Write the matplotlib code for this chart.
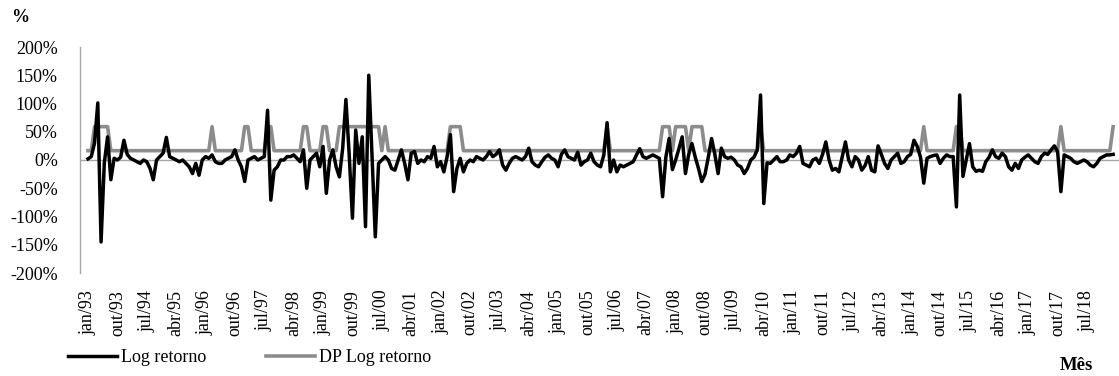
import numpy as np
import matplotlib
matplotlib.use('Agg')
import matplotlib.pyplot as plt

plt.rcParams['font.family'] = ['Liberation Serif', 'DejaVu Serif']

# rótulos do eixo x (um a cada 9 meses, jan/93 ... jul/18)
rotulos_x = ['jan/93', 'out/93', 'jul/94', 'abr/95', 'jan/96', 'out/96', 'jul/97',
             'abr/98', 'jan/99', 'out/99', 'jul/00', 'abr/01', 'jan/02', 'out/02',
             'jul/03', 'abr/04', 'jan/05', 'out/05', 'jul/06', 'abr/07', 'jan/08',
             'out/08', 'jul/09', 'abr/10', 'jan/11', 'out/11', 'jul/12', 'abr/13',
             'jan/14', 'out/14', 'jul/15', 'abr/16', 'jan/17', 'out/17', 'jul/18']

# log retorno mensal (%), jan/93 a mar/19, uma linha por ano
log_retorno = [
    2, 6, 30, 101, -145, -5, 41, -35, 3, 0, 5, 35,            # 1993
    10, 3, 0, -3, -6, 0, -3, -15, -35, 0, 6, 12,              # 1994
    40, 6, 3, 0, -3, 0, -6, -12, -24, -6, -27, 0,             # 1995
    6, 3, 9, -3, -6, -6, 0, 3, 6, 18, 0, -12,                 # 1996
    -38, 0, 3, 6, 0, 3, 6, 88, -71, -18, -12, 0,              # 1997
    0, 6, 6, 9, 3, -3, 18, -50, 0, 6, 12, -12,                # 1998
    24, -59, 0, 18, -12, -30, 20, 107, 10, -103, 53, -6,      # 1999
    41, -118, 150, 5, -136, -6, 0, 6, 0, -15, -18, 0,         # 2000
    18, -6, -35, 12, 15, -6, 0, -3, 6, 3, 24, -12,            # 2001
    -3, -21, 6, 45, -56, -15, 3, -21, -6, 0, -3, 6,           # 2002
    3, 0, 6, 15, 6, 10, 18, -9, -18, -6, 3, 6,               # 2003
    3, 0, 6, 21, -3, -9, -12, -3, 5, 9, 3, 0,                 # 2004
    -12, 10, 18, 6, 3, 0, 14, -9, -3, 0, 12, -3,              # 2005
    -9, -12, 9, 66, -21, 0, -21, -9, -12, -9, -6, -3,         # 2006
    9, 20, 6, 3, 6, 9, 6, 3, -65, 5, 38, -17,                 # 2007
    0, 20, 41, -24, 10, 29, 5, -15, -38, -25, 5, 38,          # 2008
    10, -24, 21, 6, 3, 5, 0, -9, -12, -24, -15, 0,            # 2009
    5, 18, 115, -77, -5, -6, 0, 6, -3, -3, 0, 9,              # 2010
    6, 12, 24, -6, -9, -12, 0, 3, -6, 10, 32, 0,              # 2011
    -18, -15, -21, 5, 32, 0, -12, 6, 0, -18, -10, 6,          # 2012
    -18, -21, 25, 10, -6, -15, 0, 6, 12, -6, -3, 6,           # 2013
    10, 35, 24, 5, -41, 3, 6, 8, 9, -6, 3, 9,                 # 2014
    6, 6, -83, 115, -29, 0, 29, -12, -20, -18, -20, -3,       # 2015
    5, 18, 6, 3, 12, 6, -12, -18, -6, -15, 0, 5,              # 2016
    9, 3, -3, -6, 6, 12, 10, 18, 25, 15, -56, 9,              # 2017
    6, 3, -3, -6, -3, 0, -3, -9, -12, -6, 3, 6,               # 2018
    9, 9, 10,                                                 # 2019
]

# desvio padrão do log retorno (%), mesmo período
dp_log_retorno = [
    16.5, 16.5, 59, 59, 59, 59, 59, 16.5, 16.5, 16.5, 16.5, 16.5,          # 1993
    16.5, 16.5, 16.5, 16.5, 16.5, 16.5, 16.5, 16.5, 16.5, 16.5, 16.5, 16.5,  # 1994
    16.5, 16.5, 16.5, 16.5, 16.5, 16.5, 16.5, 16.5, 16.5, 16.5, 16.5, 16.5,  # 1995
    16.5, 16.5, 59, 16.5, 16.5, 16.5, 16.5, 16.5, 16.5, 16.5, 16.5, 16.5,    # 1996
    59, 59, 16.5, 16.5, 16.5, 16.5, 16.5, 59, 59, 16.5, 16.5, 16.5,          # 1997
    16.5, 16.5, 16.5, 16.5, 16.5, 16.5, 59, 59, 16.5, 16.5, 16.5, 16.5,      # 1998
    59, 59, 16.5, 16.5, 16.5, 59, 59, 59, 59, 59, 59, 59,                    # 1999
    59, 59, 59, 59, 59, 59, 16.5, 59, 16.5, 16.5, 16.5, 16.5,                # 2000
    16.5, 16.5, 16.5, 16.5, 16.5, 16.5, 16.5, 16.5, 16.5, 16.5, 16.5, 16.5,  # 2001
    16.5, 16.5, 16.5, 59, 59, 59, 59, 16.5, 16.5, 16.5, 16.5, 16.5,          # 2002
    16.5, 16.5, 16.5, 16.5, 16.5, 16.5, 16.5, 16.5, 16.5, 16.5, 16.5, 16.5,  # 2003
    16.5, 16.5, 16.5, 16.5, 16.5, 16.5, 16.5, 16.5, 16.5, 16.5, 16.5, 16.5,  # 2004
    16.5, 16.5, 16.5, 16.5, 16.5, 16.5, 16.5, 16.5, 16.5, 16.5, 16.5, 16.5,  # 2005
    16.5, 16.5, 16.5, 59, 16.5, 16.5, 16.5, 16.5, 16.5, 16.5, 16.5, 16.5,    # 2006
    16.5, 16.5, 16.5, 16.5, 16.5, 16.5, 16.5, 16.5, 59, 59, 59, 16.5,        # 2007
    59, 59, 59, 59, 16.5, 59, 59, 59, 59, 16.5, 16.5, 16.5,                  # 2008
    16.5, 16.5, 16.5, 16.5, 16.5, 16.5, 16.5, 16.5, 16.5, 16.5, 16.5, 16.5,  # 2009
    16.5, 16.5, 59, 16.5, 16.5, 16.5, 16.5, 16.5, 16.5, 16.5, 16.5, 16.5,    # 2010
    16.5, 16.5, 16.5, 16.5, 16.5, 16.5, 16.5, 16.5, 16.5, 16.5, 16.5, 16.5,  # 2011
    16.5, 16.5, 16.5, 16.5, 16.5, 16.5, 16.5, 16.5, 16.5, 16.5, 16.5, 16.5,  # 2012
    16.5, 16.5, 16.5, 16.5, 16.5, 16.5, 16.5, 16.5, 16.5, 16.5, 16.5, 16.5,  # 2013
    16.5, 16.5, 16.5, 16.5, 59, 16.5, 16.5, 16.5, 16.5, 16.5, 16.5, 16.5,    # 2014
    16.5, 16.5, 59, 59, 16.5, 16.5, 16.5, 16.5, 16.5, 16.5, 16.5, 16.5,      # 2015
    16.5, 16.5, 16.5, 16.5, 16.5, 16.5, 16.5, 16.5, 16.5, 16.5, 16.5, 16.5,  # 2016
    16.5, 16.5, 16.5, 16.5, 16.5, 16.5, 16.5, 16.5, 16.5, 16.5, 59, 16.5,    # 2017
    16.5, 16.5, 16.5, 16.5, 16.5, 16.5, 16.5, 16.5, 16.5, 16.5, 16.5, 16.5,  # 2018
    16.5, 16.5, 59,                                                          # 2019
]

meses = np.arange(len(log_retorno))

fig = plt.figure(figsize=(11.19, 3.76), dpi=100)
ax = fig.add_axes([80 / 1119, 1 - 273 / 376, 1 - 80 / 1119, (273 - 47) / 376])

ax.axhline(0, color='#a6a6a6', linewidth=1.0, zorder=1)
ax.plot(meses, dp_log_retorno, color='#8c8c8c', linewidth=2.6,
        label='DP Log retorno', zorder=2)
ax.plot(meses, log_retorno, color='black', linewidth=2.5,
        label='Log retorno', zorder=3)

ax.set_xlim(-2.45, 315.8)
ax.set_ylim(-200, 200)

ax.set_yticks(np.arange(-200, 201, 50))
ax.set_yticklabels([f'{v}%' for v in range(-200, 201, 50)])
ax.set_xticks(np.arange(0, 9 * len(rotulos_x), 9))
ax.set_xticklabels(rotulos_x, rotation=90)

ax.tick_params(axis='y', length=0, pad=16, labelsize=13)
ax.tick_params(axis='x', length=0, pad=12, labelsize=13)

for lado in ['top', 'right', 'bottom']:
    ax.spines[lado].set_visible(False)
ax.spines['left'].set_color('#a6a6a6')
ax.spines['left'].set_linewidth(1.0)

handles, labels = ax.get_legend_handles_labels()
fig.legend(handles[::-1], labels[::-1], loc='center left',
           bbox_to_anchor=(68 / 1119, 1 - 358 / 376), ncol=2, frameon=False,
           fontsize=13, borderpad=0, borderaxespad=0, handlelength=2.7,
           handletextpad=0.25, columnspacing=3.3)

fig.text(20 / 1119, 1 - 18 / 376, '%', fontsize=13, fontweight='bold',
         ha='center', va='center')
fig.text(1076 / 1119, 1 - 366 / 376, 'Mês', fontsize=13.5, fontweight='bold',
         ha='center', va='center')

fig.savefig('out.png', dpi=100)
